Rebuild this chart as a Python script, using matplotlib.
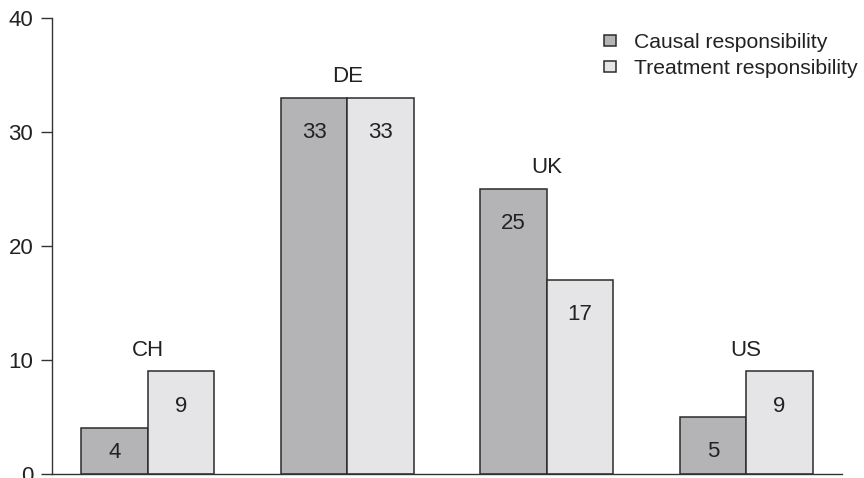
import numpy as np
import matplotlib.pyplot as plt

plt.rcParams['font.family'] = ['Liberation Sans', 'DejaVu Sans']

countries = ['CH', 'DE', 'UK', 'US']
causal = [4, 33, 25, 5]
treatment = [9, 33, 17, 9]

fig = plt.figure(figsize=[8.64, 4.78], dpi=100)
ax = fig.add_axes([0.0602, 0.0084, 0.9143, 0.9539])

x = np.arange(len(countries))
w = 0.333
edge = '#2b2b2b'
b1 = ax.bar(x - w/2, causal, w, color='#b4b4b7', edgecolor=edge, linewidth=1.1,
            label='Causal responsibility')
b2 = ax.bar(x + w/2, treatment, w, color='#e5e5e7', edgecolor=edge, linewidth=1.1,
            label='Treatment responsibility')

# values written inside the bars, just under the top
for bars, vals in [(b1, causal), (b2, treatment)]:
    for rect, v in zip(bars, vals):
        ax.text(rect.get_x() + rect.get_width()/2, max(v - 3.05, 1.9), str(v),
                ha='center', va='center', fontsize=16, color='#222222')

# country name above each pair
for xi, c, t, name in zip(x, causal, treatment, countries):
    ax.text(xi, max(c, t) + 1.85, name, ha='center', va='center',
            fontsize=16, color='#222222')

ax.set_xlim(-0.48, 3.48)
ax.set_ylim(0, 40)
ax.set_yticks([0, 10, 20, 30, 40])
ax.set_xticks([])
ax.tick_params(axis='y', length=8, width=1, color='#333333', labelsize=16,
               labelcolor='#222222', pad=5.5)
for s in ['top', 'right']:
    ax.spines[s].set_visible(False)
for s in ['left', 'bottom']:
    ax.spines[s].set_color('#333333')
    ax.spines[s].set_linewidth(1)

ax.legend(loc='upper left', bbox_to_anchor=(604/864, 1 - 33/478),
          bbox_transform=fig.transFigure, frameon=False, borderpad=0,
          borderaxespad=0, fontsize=15.2, handlelength=0.57, handleheight=0.45,
          handletextpad=0.86, labelspacing=0.32, labelcolor='#222222')

fig.savefig('out.png')
